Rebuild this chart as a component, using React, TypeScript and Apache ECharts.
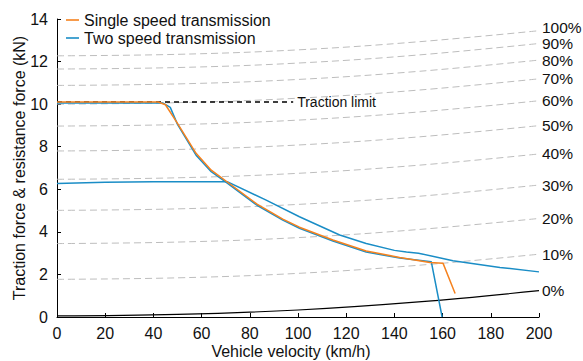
import React, { useEffect, useRef } from "react";
import * as echarts from "echarts";

// Gradient resistance lines (kN) sampled at these speeds (km/h)
const gradeSpeeds = [0, 50, 100, 150, 200];
const gradeLabels = ["0%", "10%", "20%", "30%", "40%", "50%", "60%", "70%", "80%", "90%", "100%"];
const grade0 = [0.05, 0.12, 0.33, 0.71, 1.24];
const grade10 = [1.77, 1.84, 2.05, 2.43, 2.95];
const grade20 = [3.45, 3.52, 3.73, 4.11, 4.63];
const grade30 = [5.01, 5.08, 5.29, 5.67, 6.2];
const grade40 = [6.47, 6.54, 6.75, 7.13, 7.66];
const grade50 = [7.8, 7.87, 8.08, 8.46, 8.99];
const grade60 = [8.97, 9.04, 9.25, 9.63, 10.16];
const grade70 = [10.0, 10.07, 10.28, 10.66, 11.19];
const grade80 = [10.88, 10.95, 11.16, 11.54, 12.07];
const grade90 = [11.65, 11.72, 11.93, 12.31, 12.85];
const grade100 = [12.27, 12.34, 12.55, 12.93, 13.45];

// Single speed transmission
const singleX = [0, 42, 45, 50, 57.7, 64, 70.8, 83, 93.7, 100.6, 114.5, 128.3, 142.2, 154.7, 160.2, 165.2];
const singleY = [10.1, 10.1, 9.97, 9.1, 7.69, 6.9, 6.33, 5.3, 4.6, 4.22, 3.62, 3.1, 2.8, 2.56, 2.52, 1.1];

// Two speed transmission, first gear
const twoG1X = [0, 44, 47, 50, 57.7, 64, 70.8, 83, 93.7, 100.6, 114.5, 128.3, 142.2, 155.3, 159.8];
const twoG1Y = [10.05, 10.05, 9.85, 9.05, 7.6, 6.83, 6.28, 5.25, 4.55, 4.17, 3.57, 3.05, 2.77, 2.6, 0];

// Two speed transmission, second gear
const twoG2X = [0, 20, 40, 70.8, 86.8, 100.6, 117.3, 128.3, 140, 145, 150, 164.3, 183.8, 200];
const twoG2Y = [6.27, 6.33, 6.35, 6.35, 5.49, 4.71, 3.85, 3.45, 3.13, 3.05, 3.0, 2.64, 2.33, 2.12];

// Traction limit
const tractionX = [0, 98];
const tractionY = [10.1, 10.1];

const xTicks = { min: 0, max: 200, interval: 20 };
const yTicks = { min: 0, max: 14, interval: 2 };

const FONT = "'Liberation Sans', Arial, Helvetica, sans-serif";
const ORANGE = "#F5821F";
const BLUE = "#1A8DC6";
const TXT = "#111";

const zip = (xs: number[], ys: number[]) => xs.map((x, i) => [x, ys[i]]);

export default function App() {
  const ref = useRef<HTMLDivElement>(null);
  useEffect(() => {
    if (!ref.current) return;
    const chart = echarts.init(ref.current, undefined, { renderer: "svg" });
    const grades = [grade0, grade10, grade20, grade30, grade40, grade50, grade60, grade70, grade80, grade90, grade100];
    const gradeSeries = grades.map((g, i) => ({
      type: "line",
      name: gradeLabels[i],
      data: zip(gradeSpeeds, g),
      smooth: 0.4,
      showSymbol: false,
      symbol: "none",
      silent: true,
      z: 1,
      lineStyle: i === 0
        ? { color: "#000", width: 1.2, type: "solid" }
        : { color: "#bdbdbd", width: 1, type: [7, 4] },
      endLabel: {
        show: true,
        formatter: gradeLabels[i],
        distance: 3,
        fontSize: 15.5,
        lineHeight: 12,
        offset: i === 10 ? [0, -3] : [0, 0],
        fontFamily: FONT,
        color: TXT,
      },
    }));
    chart.setOption({
      animation: false,
      textStyle: { fontFamily: FONT },
      grid: {
        left: 57,
        right: 44,
        top: 19,
        bottom: 44,
        containLabel: false,
        outerBoundsMode: "none",
      },
      legend: {
        left: 66,
        top: 11,
        orient: "vertical",
        padding: 0,
        itemGap: 0,
        itemWidth: 13,
        itemHeight: 1.6,
        icon: "rect",
        data: ["Single speed transmission", "Two speed transmission"],
        textStyle: { fontSize: 16, fontFamily: FONT, color: TXT, lineHeight: 18 },
      },
      xAxis: {
        type: "value",
        ...xTicks,
        name: "Vehicle velocity (km/h)",
        nameLocation: "middle",
        nameGap: 26,
        nameMoveOverlap: false,
        nameTextStyle: { fontSize: 16, fontFamily: FONT, color: TXT, padding: [0, 14, 0, 0] },
        axisLine: { lineStyle: { color: "#000", width: 1 } },
        axisTick: { inside: true, length: 4, lineStyle: { color: "#000" } },
        axisLabel: { fontSize: 16, fontFamily: FONT, color: TXT, margin: 8 },
        splitLine: { show: false },
      },
      yAxis: {
        type: "value",
        ...yTicks,
        name: "Traction force & resistance force (kN)",
        nameLocation: "middle",
        nameGap: 30,
        nameMoveOverlap: false,
        nameTextStyle: { fontSize: 16, fontFamily: FONT, color: TXT },
        axisLine: { show: true, lineStyle: { color: "#000", width: 1 } },
        axisTick: { show: true, inside: true, length: 4, lineStyle: { color: "#000" } },
        axisLabel: { fontSize: 16, fontFamily: FONT, color: TXT, margin: 9 },
        splitLine: { show: false },
      },
      series: [
        ...gradeSeries,
        {
          type: "line",
          name: "Traction limit",
          data: zip(tractionX, tractionY),
          showSymbol: false,
          symbol: "none",
          z: 2,
          lineStyle: { color: "#000", width: 1.5, type: [5, 4] },
          endLabel: {
            show: true,
            formatter: "Traction limit",
            distance: 4,
            fontSize: 14,
            fontFamily: FONT,
            color: TXT,
          },
        },
        {
          type: "line",
          name: "Two speed transmission",
          data: zip(twoG2X, twoG2Y),
          showSymbol: false,
          symbol: "none",
          z: 3,
          color: BLUE,
          lineStyle: { color: BLUE, width: 1.5 },
        },
        {
          type: "line",
          name: "Two speed transmission",
          data: zip(twoG1X, twoG1Y),
          showSymbol: false,
          symbol: "none",
          z: 3,
          color: BLUE,
          lineStyle: { color: BLUE, width: 1.5 },
        },
        {
          type: "line",
          name: "Single speed transmission",
          data: zip(singleX, singleY),
          showSymbol: false,
          symbol: "none",
          z: 4,
          color: ORANGE,
          lineStyle: { color: ORANGE, width: 1.5 },
        },
      ],
    });
    return () => chart.dispose();
  }, []);
  return (
    <div
      ref={ref}
      style={{ position: "absolute", left: 0, top: 0, width: 583, height: 361, background: "#fff" }}
    />
  );
}
